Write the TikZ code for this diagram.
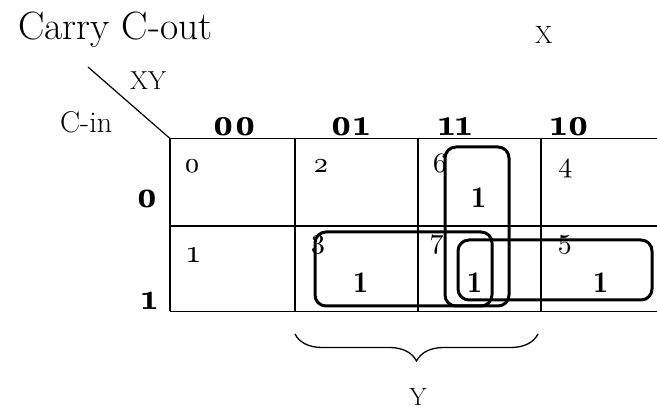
\documentclass[tikz,border=0pt]{standalone}
\usepackage{fontspec}
\newfontfamily\osf{lmroman10-regular.otf}[BoldFont=lmromandemi10-regular.otf,Numbers=OldStyle]
\newfontfamily\demi{lmromandemi10-regular.otf}
\usetikzlibrary{decorations.pathreplacing}
\begin{document}
\begin{tikzpicture}[x=1pt,y=-1pt,
  gridline/.style={line width=1.6pt},
  loopbox/.style={draw, line width=3pt, rounded corners=11pt},
  txt/.style={inner sep=0pt, anchor=base west},
  hdr/.style={inner sep=0pt, anchor=base, font=\osf\bfseries\fontsize{39}{39}\selectfont},
  rowlbl/.style={inner sep=0pt, anchor=base east, font=\osf\bfseries\fontsize{38}{38}\selectfont},
  idx/.style={inner sep=0pt, anchor=base west, font=\osf\fontsize{28}{28}\selectfont},
  val/.style={inner sep=0pt, anchor=base, font=\demi\fontsize{30}{30}\selectfont},
]
\useasboundingbox[fill=white] (0,0) rectangle (657,411);
% grid
\draw[gridline] (170,138.5) -- (657,138.5);
\draw[gridline] (170,226) -- (657,226);
\draw[gridline] (170,311.5) -- (657,311.5);
\foreach \xx in {170,295,418,541} \draw[gridline] (\xx,138.5) -- (\xx,311.5);
% diagonal
\coordinate (dA) at (88,67);
\coordinate (dB) at (170,138.5);
\draw[line width=1.2pt] (dA) -- (dB);
% labels
\node[txt, font=\fontsize{39.5}{40}\selectfont] (title) at (18,40) {Carry C-out};
\node[txt, font=\fontsize{26}{26}\selectfont] (xy) at (130,90) {XY};
\node[txt, font=\fontsize{30}{30}\selectfont] (cin) at (60,133) {C-in};
\node[txt, font=\fontsize{25}{25}\selectfont] (xlbl) at (535,44) {X};
\node[inner sep=0pt, anchor=base, font=\fontsize{25}{25}\selectfont] (ylbl) at (418,406) {Y};
% headers
\node[hdr] (h00) at (234.5,136) {00};
\node[hdr] (h01) at (350.5,136) {01};
\node[hdr] (h11) at (455,136) {11};
\node[hdr] (h10) at (570.5,136) {10};
\node[rowlbl] (r0) at (158,208) {0};
\node[rowlbl] (r1) at (158,310) {1};
% cell indices
\node[idx] (i0) at (184,173) {0};
\node[idx] (i2) at (313,173) {2};
\node[idx] (i6) at (432,173) {6};
\node[idx] (i4) at (558,173) {4};
\node[idx, font=\osf\fontsize{32}{32}\selectfont] (i1) at (187,263) {1};
\node[idx] (i3) at (310,249) {3};
\node[idx] (i7) at (430,249) {7};
\node[idx] (i5) at (557,249) {5};
% values
\node[val] (v6) at (478.5,208) {1};
\node[val] (v3) at (360.5,293) {1};
\node[val] (v7) at (474.5,293) {1};
\node[val] (v5) at (600.5,293) {1};
% loops
\draw[loopbox] (445,147) rectangle (509,306);
\draw[loopbox] (315,232) rectangle (492,306);
\draw[loopbox] (458,240) rectangle (652,300);
% brace
\coordinate (bL) at (295,334);
\coordinate (bR) at (538,334);
\draw[decorate, decoration={brace, mirror, amplitude=27pt}, line width=1.3pt] (bL) -- (bR);
\end{tikzpicture}
\end{document}
